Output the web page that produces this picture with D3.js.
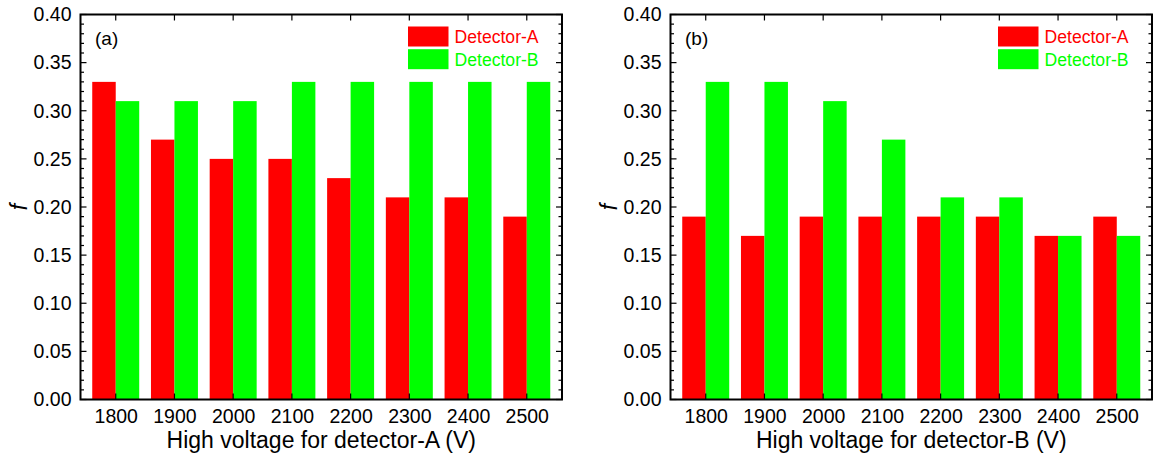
<!DOCTYPE html>
<meta charset="utf-8">
<style>
body { margin: 0; background: #fff; }
text { font-family: Arial, "Liberation Sans", sans-serif; }
</style>
<body>
<script src="https://d3js.org/d3.v7.min.js"></script>
<script>
  // data
  var voltages = [1800, 1900, 2000, 2100, 2200, 2300, 2400, 2500];
  var seriesNames = ["Detector-A", "Detector-B"];
  var seriesColors = ["#ff0000", "#00ff00"];
  var yTicks = [0, 0.05, 0.10, 0.15, 0.20, 0.25, 0.30, 0.35, 0.40];

  var panelA_detA = [0.33, 0.27, 0.25, 0.25, 0.23, 0.21, 0.21, 0.19];
  var panelA_detB = [0.31, 0.31, 0.31, 0.33, 0.33, 0.33, 0.33, 0.33];
  var panelB_detA = [0.19, 0.17, 0.19, 0.19, 0.19, 0.19, 0.17, 0.19];
  var panelB_detB = [0.33, 0.33, 0.31, 0.27, 0.21, 0.21, 0.17, 0.17];

  var svg = d3.select("body").append("svg")
      .attr("width", 1153)
      .attr("height", 459);

  function panel(left, right, tag, xTitle, detA, detB) {
    var top = 14.5, bottom = 399.5;
    var x = d3.scaleLinear().domain([1740, 2560]).range([left, right]);
    var y = d3.scaleLinear().domain([0, 0.40]).range([bottom, top]);
    var barW = x(1840) - x(1800);
    var g = svg.append("g");

    // bars
    [detA, detB].forEach(function(vals, si) {
      g.selectAll(".bar" + si)
          .data(vals)
        .enter().append("rect")
          .attr("x", function(d, i) { return si == 0 ? x(voltages[i]) - barW : x(voltages[i]); })
          .attr("width", barW)
          .attr("y", function(d) { return y(d); })
          .attr("height", function(d) { return bottom - y(d); })
          .attr("fill", seriesColors[si]);
    });

    // axes (ticks pointing inward)
    var minor = d3.range(0, 0.401, 0.01);
    g.append("g")
        .attr("transform", "translate(" + left + ",0)")
        .call(d3.axisLeft(y).tickValues(yTicks).tickSize(0).tickPadding(9).tickFormat(d3.format(".2f")))
        .call(function(a) { a.select(".domain").remove(); a.selectAll("text").style("font-size", "19.5px").attr("fill", "#000"); });

    var tk = g.append("g").attr("stroke", "#000").attr("stroke-width", 1.2);
    tk.selectAll(".ym").data(minor).enter().append("line")
        .attr("x1", left).attr("x2", function(d, i) { return left + (i % 5 == 0 ? 6 : 3.5); })
        .attr("y1", function(d) { return y(d); }).attr("y2", function(d) { return y(d); });
    tk.selectAll(".ymr").data(minor).enter().append("line")
        .attr("x1", right).attr("x2", function(d, i) { return right - (i % 5 == 0 ? 6 : 3.5); })
        .attr("y1", function(d) { return y(d); }).attr("y2", function(d) { return y(d); });
    tk.selectAll(".xb").data(voltages).enter().append("line")
        .attr("x1", function(d) { return x(d); }).attr("x2", function(d) { return x(d); })
        .attr("y1", bottom).attr("y2", bottom - 6);
    tk.selectAll(".xt").data(voltages).enter().append("line")
        .attr("x1", function(d) { return x(d); }).attr("x2", function(d) { return x(d); })
        .attr("y1", top).attr("y2", top + 6);

    g.append("g")
        .attr("transform", "translate(0," + bottom + ")")
        .call(d3.axisBottom(x).tickValues(voltages).tickSize(0).tickPadding(10).tickFormat(d3.format("d")))
        .call(function(a) { a.select(".domain").remove(); a.selectAll("text").style("font-size", "19.5px").attr("fill", "#000"); });

    g.append("rect")
        .attr("x", left).attr("y", top)
        .attr("width", right - left).attr("height", bottom - top)
        .attr("fill", "none").attr("stroke", "#000").attr("stroke-width", 2);

    // panel tag
    g.append("text").attr("x", left + 14.5).attr("y", 44.5)
        .style("font-size", "19px").text(tag);

    // legend
    var lx = right - 154;
    seriesNames.forEach(function(n, i) {
      g.append("rect").attr("x", lx).attr("y", 26.5 + i * 22.7)
          .attr("width", 40.5).attr("height", 20).attr("fill", seriesColors[i]);
      g.append("text").attr("x", lx + 46.5).attr("y", 43 + i * 22.7)
          .style("font-size", "17.6px").attr("fill", seriesColors[i]).text(n);
    });

    // titles
    g.append("text").attr("x", (left + right) / 2).attr("y", 448)
        .attr("text-anchor", "middle").style("font-size", "23px").text(xTitle);
    g.append("text")
        .attr("transform", "translate(" + (left - 53.5) + "," + ((top + bottom) / 2) + ") rotate(-90)")
        .attr("text-anchor", "middle").style("font-size", "23px").style("font-style", "italic").text("f");
  }

  panel(80.5, 562, "(a)", "High voltage for detector-A (V)", panelA_detA, panelA_detB);
  panel(670.5, 1152, "(b)", "High voltage for detector-B (V)", panelB_detA, panelB_detB);
</script>
</body>
